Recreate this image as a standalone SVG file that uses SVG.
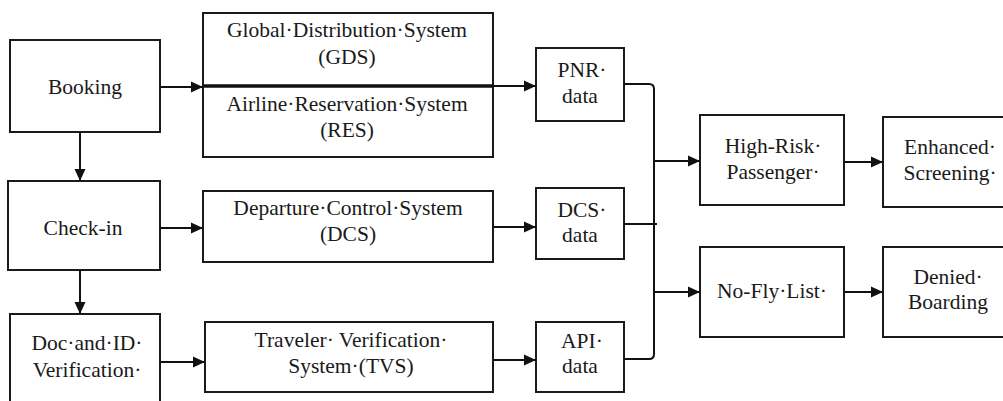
<svg xmlns="http://www.w3.org/2000/svg" width="1003" height="401" viewBox="0 0 1003 401" font-family="Liberation Serif, DejaVu Serif, serif">
  <style>
    .box { fill: #ffffff; stroke: #1a1a1a; stroke-width: 2; }
    .lbl { font-size: 21.5px; fill: #1a1a1a; text-anchor: middle; }
    .con { fill: none; stroke: #111111; stroke-width: 2; }
    .arr { marker-end: url(#ah); }
  </style>
  <defs>
    <marker id="ah" markerUnits="userSpaceOnUse" markerWidth="12" markerHeight="12" viewBox="0 0 12 12" refX="12" refY="6" orient="auto">
      <path d="M0,0.5 L12,6 L0,11.5 z" fill="#111111"/>
    </marker>
  </defs>
  <rect width="1003" height="401" fill="#ffffff"/>

  <g id="booking">
    <rect class="box" x="10" y="40" width="150" height="92"/>
    <text class="lbl" x="85" y="94">Booking</text>
  </g>
  <g id="checkin">
    <rect class="box" x="8" y="181" width="152" height="89"/>
    <text class="lbl" x="83" y="235">Check-in</text>
  </g>
  <g id="docid">
    <rect class="box" x="10" y="314" width="150" height="100"/>
    <text class="lbl" x="87" y="350">Doc·and·ID·</text>
    <text class="lbl" x="87" y="377">Verification·</text>
  </g>
  <g id="gds-res">
    <rect class="box" x="203" y="13" width="290" height="144"/>
    <text class="lbl" x="347" y="37">Global·Distribution·System</text>
    <text class="lbl" x="347" y="64">(GDS)</text>
    <text class="lbl" x="347" y="111">Airline·Reservation·System</text>
    <text class="lbl" x="347" y="137">(RES)</text>
  </g>
  <g id="dcs">
    <rect class="box" x="203" y="191" width="290" height="71"/>
    <text class="lbl" x="348" y="215">Departure·Control·System</text>
    <text class="lbl" x="348" y="241">(DCS)</text>
  </g>
  <g id="tvs">
    <rect class="box" x="205" y="322" width="288" height="70"/>
    <text class="lbl" x="351" y="347">Traveler· Verification·</text>
    <text class="lbl" x="351" y="373">System·(TVS)</text>
  </g>
  <g id="pnr">
    <rect class="box" x="536" y="48" width="88" height="73"/>
    <text class="lbl" x="582" y="77">PNR·</text>
    <text class="lbl" x="580" y="103">data</text>
  </g>
  <g id="dcsdata">
    <rect class="box" x="536" y="188" width="88" height="71"/>
    <text class="lbl" x="582" y="217">DCS·</text>
    <text class="lbl" x="580" y="242">data</text>
  </g>
  <g id="apidata">
    <rect class="box" x="536" y="322" width="88" height="70"/>
    <text class="lbl" x="582" y="348">API·</text>
    <text class="lbl" x="580" y="373">data</text>
  </g>
  <g id="highrisk">
    <rect class="box" x="700" y="115" width="144" height="90"/>
    <text class="lbl" x="773" y="153">High-Risk·</text>
    <text class="lbl" x="773" y="179">Passenger·</text>
  </g>
  <g id="nofly">
    <rect class="box" x="700" y="247" width="144" height="90"/>
    <text class="lbl" x="772" y="298">No-Fly·List·</text>
  </g>
  <g id="enhanced">
    <rect class="box" x="883" y="117" width="130" height="90"/>
    <text class="lbl" x="950" y="154">Enhanced·</text>
    <text class="lbl" x="950" y="180">Screening·</text>
  </g>
  <g id="denied">
    <rect class="box" x="883" y="247" width="130" height="90"/>
    <text class="lbl" x="948" y="284">Denied·</text>
    <text class="lbl" x="948" y="309">Boarding</text>
  </g>

  <g id="connectors">
    <line class="con arr" x1="160" y1="87" x2="203" y2="87"/>
    <line class="con" x1="203" y1="86" x2="493" y2="86" style="stroke-width:3.5"/>
    <line class="con arr" x1="493" y1="86" x2="536" y2="86"/>
    <line class="con arr" x1="80" y1="132" x2="80" y2="181"/>
    <line class="con arr" x1="160" y1="228" x2="203" y2="228"/>
    <line class="con arr" x1="80" y1="270" x2="80" y2="314"/>
    <line class="con arr" x1="160" y1="362" x2="205" y2="362"/>
    <line class="con arr" x1="493" y1="227" x2="536" y2="227"/>
    <line class="con arr" x1="493" y1="360" x2="536" y2="360"/>
    <path class="con" d="M624,84 L649,84 Q654,84 654,89 L654,354 Q654,359 649,359 L624,359"/>
    <line class="con" x1="624" y1="224" x2="657" y2="224"/>
    <line class="con arr" x1="654" y1="161" x2="700" y2="161"/>
    <line class="con arr" x1="654" y1="292" x2="700" y2="292"/>
    <line class="con arr" x1="844" y1="162" x2="883" y2="162"/>
    <line class="con arr" x1="844" y1="292" x2="883" y2="292"/>
  </g>
</svg>
